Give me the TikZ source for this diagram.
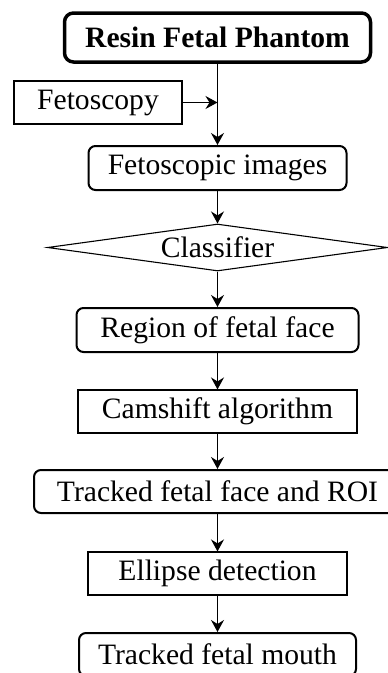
\documentclass[tikz,border=0pt]{standalone}
\usepackage{fontspec}
\setmainfont{Liberation Serif}
\usetikzlibrary{shapes.geometric,arrows.meta}
\begin{document}
\begin{tikzpicture}[x=1pt,y=-1pt,
  every node/.style={font=\fontsize{29.6}{32}\selectfont, inner sep=0pt, align=center},
  box/.style={draw, line width=1.1pt},
  rbox/.style={draw, line width=2pt, rounded corners=7pt},
  headbox/.style={draw, line width=3.5pt, rounded corners=9pt, font=\fontsize{29.6}{32}\selectfont\bfseries},
  decision/.style={draw, line width=1.1pt, diamond, aspect=7.2},
  flow/.style={line width=1.3pt, -{Stealth[length=12pt, width=13pt, inset=4pt]}}]
\clip (0,0) rectangle (388,673);
\fill[white] (0,0) rectangle (388,673);

\node[headbox, minimum width=306, minimum height=49] (phantom) at (217.5,37.5) {Resin Fetal Phantom};
\node[box, minimum width=168, minimum height=43] (fetoscopy) at (98,102.5) {Fetoscopy};
\node[rbox, minimum width=258, minimum height=44] (images) at (217.5,168) {Fetoscopic images};
\node[decision, minimum width=340, minimum height=47] (classifier) at (217.5,247.5) {Classifier};
\node[rbox, minimum width=282, minimum height=44] (region) at (217.5,330) {Region of fetal face};
\node[box, minimum width=279, minimum height=43] (camshift) at (217.5,411.5) {Camshift algorithm};
\node[rbox, minimum width=367, minimum height=43] (tracked) at (217.5,491.5) {Tracked fetal face and ROI};
\node[box, minimum width=259, minimum height=43] (ellipse) at (217.5,573.5) {Ellipse detection};
\node[rbox, minimum width=277, minimum height=43] (mouth) at (217.5,654.5) {Tracked fetal mouth};

\coordinate (join) at (phantom.south |- fetoscopy.east);

\draw[flow] (phantom.south) -- (images.north);
\draw[flow] (fetoscopy.east) -- (join);
\draw[flow] (images.south) -- (classifier.north);
\draw[flow] (classifier.south) -- (region.north);
\draw[flow] (region.south) -- (camshift.north);
\draw[flow] (camshift.south) -- (tracked.north);
\draw[flow] (tracked.south) -- (ellipse.north);
\draw[flow] (ellipse.south) -- (mouth.north);
\end{tikzpicture}
\end{document}
